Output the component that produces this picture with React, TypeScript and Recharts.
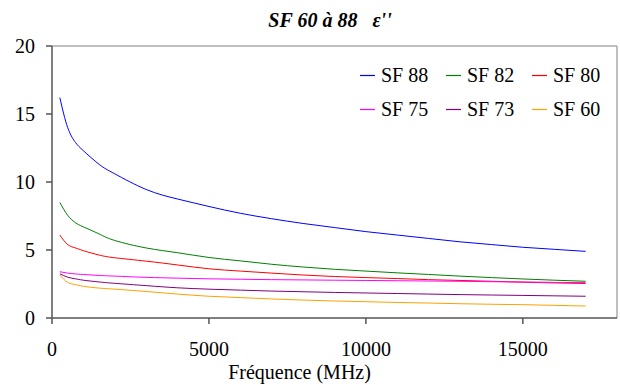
import React from 'react';
import { LineChart, Line, XAxis, YAxis, Legend, ReferenceLine, Label } from 'recharts';

const freq = [250, 500, 750, 1000, 1500, 2000, 3000, 4000, 5000, 6000, 7000, 8000, 9000, 10000, 11000, 12000, 13000, 14000, 15000, 16000, 17000];
const sf88 = [16.2, 14.0, 12.9, 12.3, 11.3, 10.6, 9.45, 8.75, 8.2, 7.7, 7.3, 6.95, 6.65, 6.35, 6.1, 5.85, 5.6, 5.4, 5.2, 5.05, 4.9];
const sf82 = [8.5, 7.55, 7.0, 6.7, 6.18, 5.7, 5.15, 4.8, 4.45, 4.2, 3.95, 3.75, 3.58, 3.45, 3.32, 3.2, 3.08, 2.97, 2.87, 2.78, 2.7];
const sf80 = [6.1, 5.4, 5.15, 4.95, 4.63, 4.43, 4.18, 3.9, 3.62, 3.45, 3.3, 3.16, 3.05, 2.97, 2.9, 2.82, 2.76, 2.7, 2.63, 2.58, 2.54];
const sf75 = [3.4, 3.3, 3.24, 3.2, 3.13, 3.08, 2.99, 2.93, 2.88, 2.85, 2.82, 2.8, 2.78, 2.76, 2.74, 2.72, 2.7, 2.67, 2.65, 2.62, 2.6];
const sf73 = [3.25, 3.0, 2.88, 2.78, 2.65, 2.55, 2.38, 2.22, 2.12, 2.05, 1.98, 1.93, 1.88, 1.84, 1.8, 1.76, 1.72, 1.69, 1.66, 1.63, 1.6];
const sf60 = [3.15, 2.62, 2.45, 2.33, 2.2, 2.12, 1.95, 1.76, 1.6, 1.5, 1.4, 1.32, 1.25, 1.2, 1.14, 1.1, 1.05, 1.01, 0.98, 0.93, 0.88];

const xTicks = [0, 5000, 10000, 15000];
const yTicks = [0, 5, 10, 15, 20];

const series = [
  { key: 'SF 88', values: sf88, color: '#0000FF' },
  { key: 'SF 82', values: sf82, color: '#008000' },
  { key: 'SF 80', values: sf80, color: '#FF0000' },
  { key: 'SF 75', values: sf75, color: '#FF00FF' },
  { key: 'SF 73', values: sf73, color: '#800080' },
  { key: 'SF 60', values: sf60, color: '#FFA000' },
];

const data = freq.map((f, i) => {
  const row: Record<string, number> = { f };
  series.forEach((s) => { row[s.key] = s.values[i]; });
  return row;
});

const FONT = '"Times New Roman", Tinos, "Liberation Serif", FreeSerif, "Noto Serif", "DejaVu Serif", monospace';

const LegendContent = () => (
  <div style={{ display: 'grid', gridTemplateColumns: '86px 86px 86px', rowGap: 11, fontFamily: FONT, fontSize: 20, color: '#000' }}>
    {series.map((s) => (
      <div key={s.key} style={{ display: 'flex', alignItems: 'center', height: 23 }}>
        <svg width={15} height={3} style={{ marginRight: 6 }}>
          <line x1={0} y1={1.5} x2={15} y2={1.5} stroke={s.color} strokeWidth={1.2} />
        </svg>
        <span>{s.key}</span>
      </div>
    ))}
  </div>
);

export default function App() {
  return (
    <div style={{ position: 'absolute', left: 0, top: 0, width: 620, height: 385, background: '#fff', fontFamily: FONT }}>
      <div style={{ position: 'absolute', left: 0, top: 8, width: 660, textAlign: 'center', fontFamily: FONT, fontSize: 20, fontWeight: 'bold', fontStyle: 'italic', whiteSpace: 'pre', lineHeight: '24px' }}>
        {'SF 60 à 88   ε\'\''}
      </div>
      <LineChart width={620} height={385} data={data} margin={{ top: 46, right: 3, left: 0, bottom: 0 }} style={{ fontFamily: FONT }}>
        <XAxis
          dataKey="f"
          type="number"
          domain={[0, 18000]}
          ticks={xTicks}
          allowDataOverflow
          height={67}
          tickSize={6}
          tickMargin={18}
          axisLine={{ stroke: '#555', strokeWidth: 1.5 }}
          tickLine={{ stroke: '#555', strokeWidth: 1.5 }}
          tick={{ fill: '#000', fontSize: 20, fontFamily: FONT }}
        >
          <Label value="Fréquence (MHz)" position="insideBottom" offset={6} dx={-35} style={{ fill: '#000', fontSize: 20, fontFamily: FONT }} />
        </XAxis>
        <YAxis
          type="number"
          domain={[0, 20]}
          ticks={yTicks}
          width={52}
          tickSize={6}
          tickMargin={11}
          axisLine={{ stroke: '#555', strokeWidth: 1.5 }}
          tickLine={{ stroke: '#555', strokeWidth: 1.5 }}
          tick={{ fill: '#000', fontSize: 20, fontFamily: FONT }}
        />
        <ReferenceLine y={20} stroke="#aaa" strokeWidth={1.5} ifOverflow="visible" />
        <ReferenceLine x={18000} stroke="#aaa" strokeWidth={1.5} ifOverflow="visible" />
        <Legend
          layout="vertical"
          align="center"
          verticalAlign="middle"
          wrapperStyle={{ position: 'absolute', left: 360, top: 64, width: 260 }}
          content={LegendContent}
        />
        {series.map((s) => (
          <Line key={s.key} dataKey={s.key} name={s.key} stroke={s.color} strokeWidth={1} dot={false} type="natural" isAnimationActive={false} />
        ))}
      </LineChart>
    </div>
  );
}
